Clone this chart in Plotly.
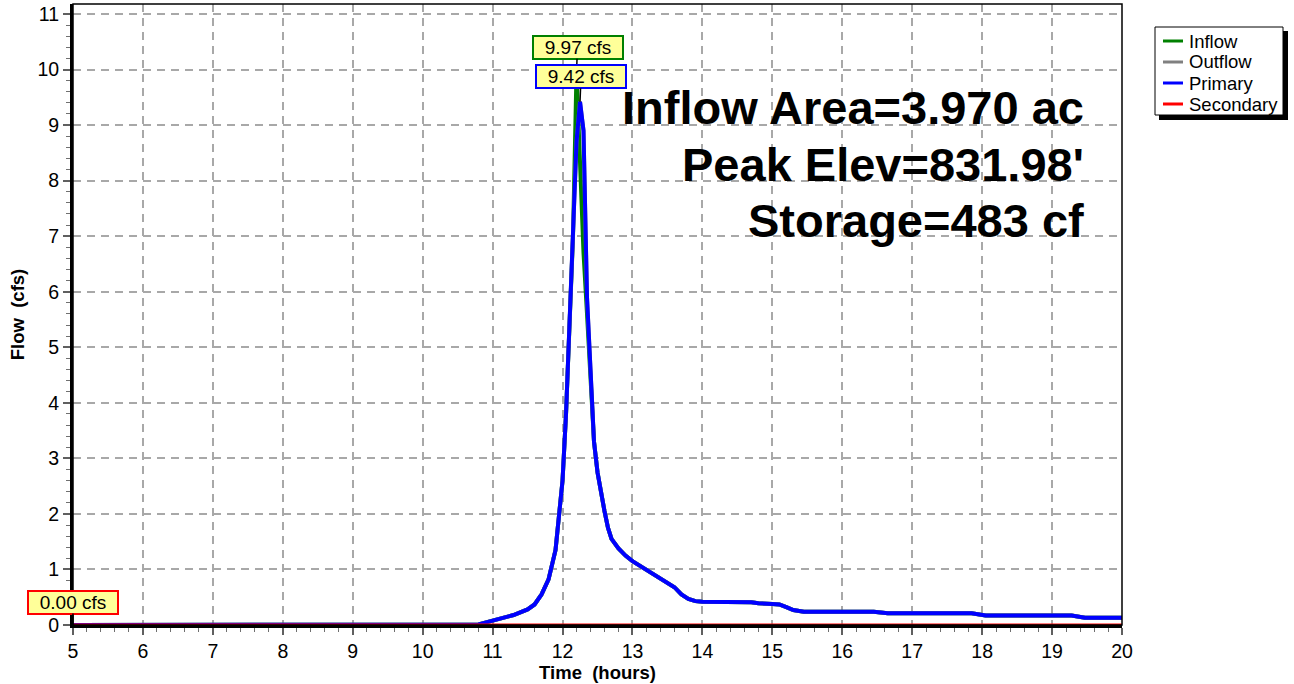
import plotly.graph_objects as go

# ---------------- data ----------------
time_hr = [5.0, 10.75, 10.8, 11.0, 11.3, 11.5, 11.6, 11.7, 11.8, 11.9, 11.95, 12.0, 12.05,
           12.1, 12.15, 12.2, 12.25, 12.3, 12.35, 12.4, 12.45, 12.5, 12.55, 12.6, 12.65,
           12.7, 12.8, 12.9, 13.0, 13.1, 13.2, 13.3, 13.4, 13.5, 13.6, 13.7, 13.8, 13.9,
           14.0, 14.7, 14.8, 15.0, 15.1, 15.2, 15.3, 15.45, 16.45, 16.65, 17.85, 18.05,
           19.28, 19.47, 20.0]

inflow_cfs = [0.0, 0.0, 0.01, 0.08, 0.18, 0.28, 0.37, 0.55, 0.82, 1.35, 2.0, 2.6, 3.8,
              5.5, 7.0, 9.97, 8.3, 6.7, 5.6, 4.4, 3.3, 2.75, 2.35, 2.05, 1.75,
              1.55, 1.38, 1.25, 1.15, 1.07, 0.99, 0.92, 0.85, 0.77, 0.68, 0.55, 0.47, 0.43,
              0.42, 0.41, 0.39, 0.38, 0.37, 0.32, 0.27, 0.24, 0.24, 0.21, 0.21, 0.17,
              0.17, 0.13, 0.13]

primary_cfs = [0.0, 0.0, 0.01, 0.08, 0.18, 0.28, 0.37, 0.55, 0.82, 1.35, 2.0, 2.6, 3.8,
               5.5, 7.0, 8.7, 9.42, 8.9, 5.9, 4.5, 3.3, 2.75, 2.35, 2.05, 1.75,
               1.55, 1.38, 1.25, 1.15, 1.07, 0.99, 0.92, 0.85, 0.77, 0.68, 0.55, 0.47, 0.43,
               0.42, 0.41, 0.39, 0.38, 0.37, 0.32, 0.27, 0.24, 0.24, 0.21, 0.21, 0.17,
               0.17, 0.13, 0.13]

secondary_cfs = [0.0] * len(time_hr)
outflow_cfs = [p + s for p, s in zip(primary_cfs, secondary_cfs)]

series_names = ["Inflow", "Outflow", "Primary", "Secondary"]
series_colors = ["#008000", "#808080", "#0000FF", "#FF0000"]
series_values = [inflow_cfs, outflow_cfs, primary_cfs, secondary_cfs]

x_ticks = list(range(5, 21))
y_ticks = list(range(0, 12))

info_lines = ["Inflow Area=3.970 ac", "Peak Elev=831.98'", "Storage=483 cf"]

# ---------------- layout geometry ----------------
W, H = 1294, 684
L, R, T, B = 73, 172, 4, 59
PW = W - L - R
PH = H - T - B
FONT = "Liberation Sans, Arial, sans-serif"


def pxx(xp):
    return (xp - L) / PW


def pyy(yp):
    return (H - B - yp) / PH


fig = go.Figure()
for name, color, vals in zip(series_names, series_colors, series_values):
    fig.add_trace(go.Scatter(x=time_hr, y=vals, mode="lines", name=name,
                             line=dict(color=color, width=4 if name != "Secondary" else 3),
                             showlegend=False, hoverinfo="x+y+name"))

axis_common = dict(
    showline=True, linecolor="black", linewidth=3,
    ticks="outside", ticklen=7, tickwidth=1.5, tickcolor="#606060",
    showgrid=True, gridcolor="#a8a8a8", gridwidth=1.5, griddash="8px,6px",
    zeroline=False,
    tickfont=dict(family=FONT, size=19.5, color="black"),
    minor=dict(dtick=0.2, ticks="outside", ticklen=4, tickwidth=1.2,
               tickcolor="#707070", showgrid=False),
)

fig.update_xaxes(range=[5, 20], tickvals=x_ticks, ticktext=[str(v) for v in x_ticks],
                 title=dict(text="<b>Time\u00a0\u00a0(hours)</b>", standoff=0,
                            font=dict(family=FONT, size=18.5, color="black")),
                 **axis_common)
fig.update_yaxes(range=[0, 11.18], tickvals=y_ticks, ticktext=[str(v) for v in y_ticks],
                 title=dict(text="<b>Flow\u00a0\u00a0(cfs)</b>", standoff=8,
                            font=dict(family=FONT, size=18.5, color="black")),
                 **axis_common)

shapes = []
# thin frame around plot area
shapes.append(dict(type="rect", xref="paper", yref="paper", x0=0, x1=1, y0=0, y1=1,
                   line=dict(color="black", width=1.5), layer="above"))

# manual legend with drop shadow
shapes.append(dict(type="rect", xref="paper", yref="paper",
                   x0=pxx(1159), x1=pxx(1288), y0=pyy(120), y1=pyy(31),
                   fillcolor="black", line=dict(width=0), layer="above"))
shapes.append(dict(type="rect", xref="paper", yref="paper",
                   x0=pxx(1155), x1=pxx(1283), y0=pyy(115), y1=pyy(27),
                   fillcolor="white", line=dict(color="black", width=1), layer="above"))

annotations = []
row_y = [41, 62, 83, 104]
for name, color, yr in zip(series_names, series_colors, row_y):
    shapes.append(dict(type="line", xref="paper", yref="paper",
                       x0=pxx(1163), x1=pxx(1183), y0=pyy(yr), y1=pyy(yr),
                       line=dict(color=color, width=3), layer="above"))
    annotations.append(dict(xref="paper", yref="paper", x=pxx(1187), y=pyy(yr),
                            xanchor="left", yanchor="middle", showarrow=False,
                            text=name, font=dict(family=FONT, size=18.5, color="black")))

# big info text
for txt, yc in zip(info_lines, [108, 164, 220]):
    annotations.append(dict(xref="paper", yref="paper", x=pxx(1086), y=pyy(yc),
                            xanchor="right", yanchor="middle", showarrow=False,
                            text="<b>" + txt + "</b>",
                            font=dict(family=FONT, size=47, color="black")))

# peak labels
def peak(vals):
    i = max(range(len(vals)), key=lambda k: vals[k])
    return time_hr[i], vals[i]


ix, iy = peak(inflow_cfs)
prx, pry = peak(primary_cfs)
sx, sy = time_hr[0], max(secondary_cfs)

for (x, y, color, ax, ay) in [(ix, iy, "#008000", 1, -24),
                              (prx, pry, "#0000FF", 1, -25),
                              (sx, sy, "#FF0000", 0, -23)]:
    annotations.append(dict(x=x, y=y, xref="x", yref="y", text=f"{y:.2f} cfs",
                            showarrow=True, arrowhead=0, arrowwidth=1.5, arrowcolor="black",
                            ax=ax, ay=ay, bgcolor="#FFFF99", bordercolor=color,
                            borderwidth=2, borderpad=1, width=86, height=19,
                            font=dict(family=FONT, size=19, color="black")))

fig.update_layout(width=W, height=H, margin=dict(l=L, r=R, t=T, b=B),
                  paper_bgcolor="white", plot_bgcolor="white",
                  shapes=shapes, annotations=annotations, showlegend=False,
                  font=dict(family=FONT, color="black"))

fig.write_html("out.html")
